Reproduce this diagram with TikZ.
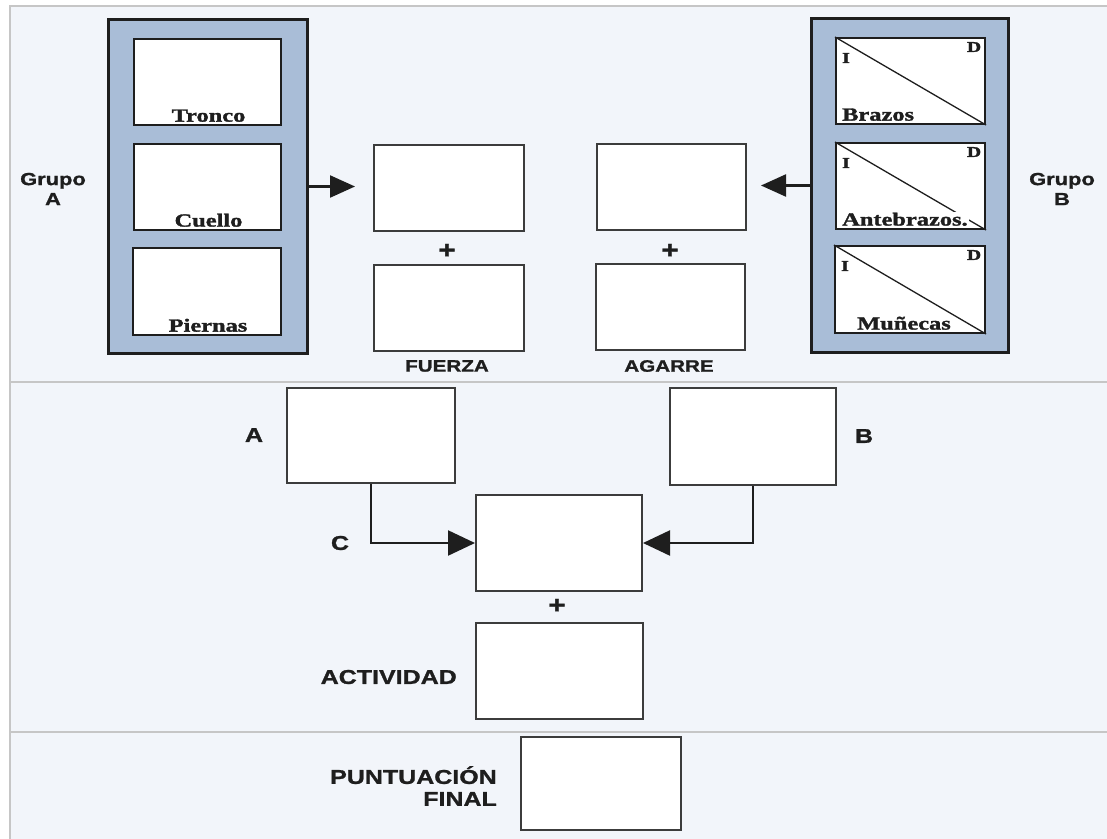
\documentclass[tikz,border=0pt]{standalone}
\usepackage{fontspec}
\usetikzlibrary{arrows.meta,calc}
\newfontfamily\lblsans[FakeStretch=1.25,FakeBold=1.2]{Liberation Sans}
\newfontfamily\lblserif[FakeStretch=1.32,FakeBold=1.6]{Liberation Serif}
\definecolor{panelbg}{HTML}{F2F5FA}
\definecolor{framegray}{HTML}{C6C6C6}
\definecolor{groupblue}{HTML}{A9BDD7}
\definecolor{inkdark}{HTML}{1E1E1E}
\definecolor{boxline}{HTML}{3C3C3C}
\tikzset{
  groupbox/.style={draw=inkdark, line width=3pt, fill=groupblue, anchor=north west, inner sep=0pt},
  partbox/.style={draw=inkdark, line width=2pt, fill=white, anchor=north west, inner sep=0pt},
  scorebox/.style={draw=boxline, line width=2pt, fill=white, anchor=north west, inner sep=0pt},
  partlabel/.style={font=\lblserif\bfseries\fontsize{18.5}{19}\selectfont, text=inkdark, inner sep=1pt},
  sidelabel/.style={font=\lblserif\bfseries\fontsize{15}{15}\selectfont, text=inkdark, inner sep=0pt},
  grouplabel/.style={font=\lblsans\bfseries\fontsize{17.5}{20}\selectfont, text=inkdark, align=center, inner sep=0pt},
  smalllabel/.style={font=\lblsans\bfseries\fontsize{16.5}{18}\selectfont, text=inkdark, inner sep=0pt},
  biglabel/.style={font=\lblsans\bfseries\fontsize{20}{22}\selectfont, text=inkdark, inner sep=0pt},
  pluslabel/.style={font=\lblsans\bfseries\fontsize{24}{24}\selectfont, text=inkdark, inner sep=0pt},
  flow/.style={draw=inkdark, line width=2.3pt, -{Triangle[length=25pt,width=22pt]}},
  flowc/.style={draw=inkdark, line width=2.3pt, -{Triangle[length=27pt,width=25pt]}},
  diag/.style={draw=inkdark, line width=1.3pt}
}
\begin{document}
\begin{tikzpicture}[x=1pt,y=-1pt]
  \useasboundingbox (0,0) rectangle (1107,838);
  % outer panel and section dividers
  \fill[white] (0,0) rectangle (1107,838);
  \filldraw[fill=panelbg, draw=framegray, line width=2.5pt] (10,6) rectangle (1120,850);
  \draw[framegray, line width=2pt] (10,382) -- (1107,382);
  \draw[framegray, line width=2pt] (10,732) -- (1107,732);

  % group A
  \node[groupbox, minimum width=199pt, minimum height=334pt] (ga) at (107,18) {};
  \node[partbox, minimum width=147pt, minimum height=86pt] (tronco) at (133,38) {};
  \node[partbox, minimum width=147pt, minimum height=86pt] (cuello) at (133,143) {};
  \node[partbox, minimum width=148pt, minimum height=87pt] (piernas) at (132,247) {};
  \node[partlabel, anchor=south] (ltronco) at ($(tronco.south)+(1,-3)$) {Tronco};
  \node[partlabel, anchor=south] (lcuello) at ($(cuello.south)+(1,-3)$) {Cuello};
  \node[partlabel, anchor=south] (lpiernas) at ($(piernas.south)+(1,-3)$) {Piernas};
  \node[grouplabel] (gal) at (53,189) {Grupo\\A};

  % group B
  \node[groupbox, minimum width=197pt, minimum height=334pt] (gb) at (810,17) {};
  \node[partbox, minimum width=149pt, minimum height=86pt] (brazos) at (835,37) {};
  \node[partbox, minimum width=149pt, minimum height=86pt] (antebrazos) at (835,142) {};
  \node[partbox, minimum width=150pt, minimum height=87pt] (munecas) at (834,245) {};
  \foreach \b in {brazos,antebrazos,munecas}{
    \draw[diag] (\b.north west) -- (\b.south east);
    \node[sidelabel] at ($(\b.north west)+(11,21)$) {I};
    \node[sidelabel] at ($(\b.north east)+(-12,10)$) {D};
  }
  \node[partlabel, anchor=south west] (lbrazos) at ($(brazos.south west)+(6,-3)$) {Brazos};
  \node[partlabel, anchor=south west, fill=white] (lantebrazos) at ($(antebrazos.south west)+(6,-3)$) {Antebrazos.};
  \node[partlabel, anchor=south] (lmunecas) at ($(munecas.south)+(-6,-3)$) {Muñecas};
  \node[grouplabel] (gbl) at (1062,189) {Grupo\\B};

  % force and grip scores
  \node[scorebox, minimum width=150pt, minimum height=86pt] (fa) at (373,144) {};
  \node[scorebox, minimum width=150pt, minimum height=86pt] (fb) at (373,264) {};
  \node[scorebox, minimum width=149pt, minimum height=86pt] (ga2) at (596,143) {};
  \node[scorebox, minimum width=149pt, minimum height=86pt] (gb2) at (595,263) {};
  \node[pluslabel] (pf) at (447,251) {+};
  \node[pluslabel] (pg) at (670,251) {+};
  \node[smalllabel] (lf) at (447,366) {FUERZA};
  \node[smalllabel] (lg) at (669,366) {AGARRE};

  \draw[flow, shorten >=18pt] (ga.east) -- (ga.east -| fa.west);
  \draw[flow, shorten >=14pt] (gb.west) -- (gb.west -| ga2.east);

  % combined scores
  \node[scorebox, minimum width=168pt, minimum height=95pt] (sa) at (286,387) {};
  \node[scorebox, minimum width=166pt, minimum height=97pt] (sb) at (669,387) {};
  \node[scorebox, minimum width=166pt, minimum height=96pt] (sc) at (475,494) {};
  \node[scorebox, minimum width=167pt, minimum height=96pt] (sact) at (475,622) {};
  \node[biglabel] (la) at (254,435) {A};
  \node[biglabel] (lb) at (864,436) {B};
  \node[biglabel] (lc) at (340,543) {C};
  \node[pluslabel] (pc) at (557,606) {+};
  \node[biglabel, anchor=east] (lact) at (457,677) {ACTIVIDAD};

  \draw[flowc] (sa.south) |- (sc.west);
  \draw[flowc] (sb.south) |- (sc.east);

  % final score
  \node[scorebox, minimum width=160pt, minimum height=93pt] (sfin) at (520,736) {};
  \node[biglabel, anchor=east, align=right] (lfin) at (497,786) {PUNTUACIÓN\\FINAL};
\end{tikzpicture}
\end{document}
